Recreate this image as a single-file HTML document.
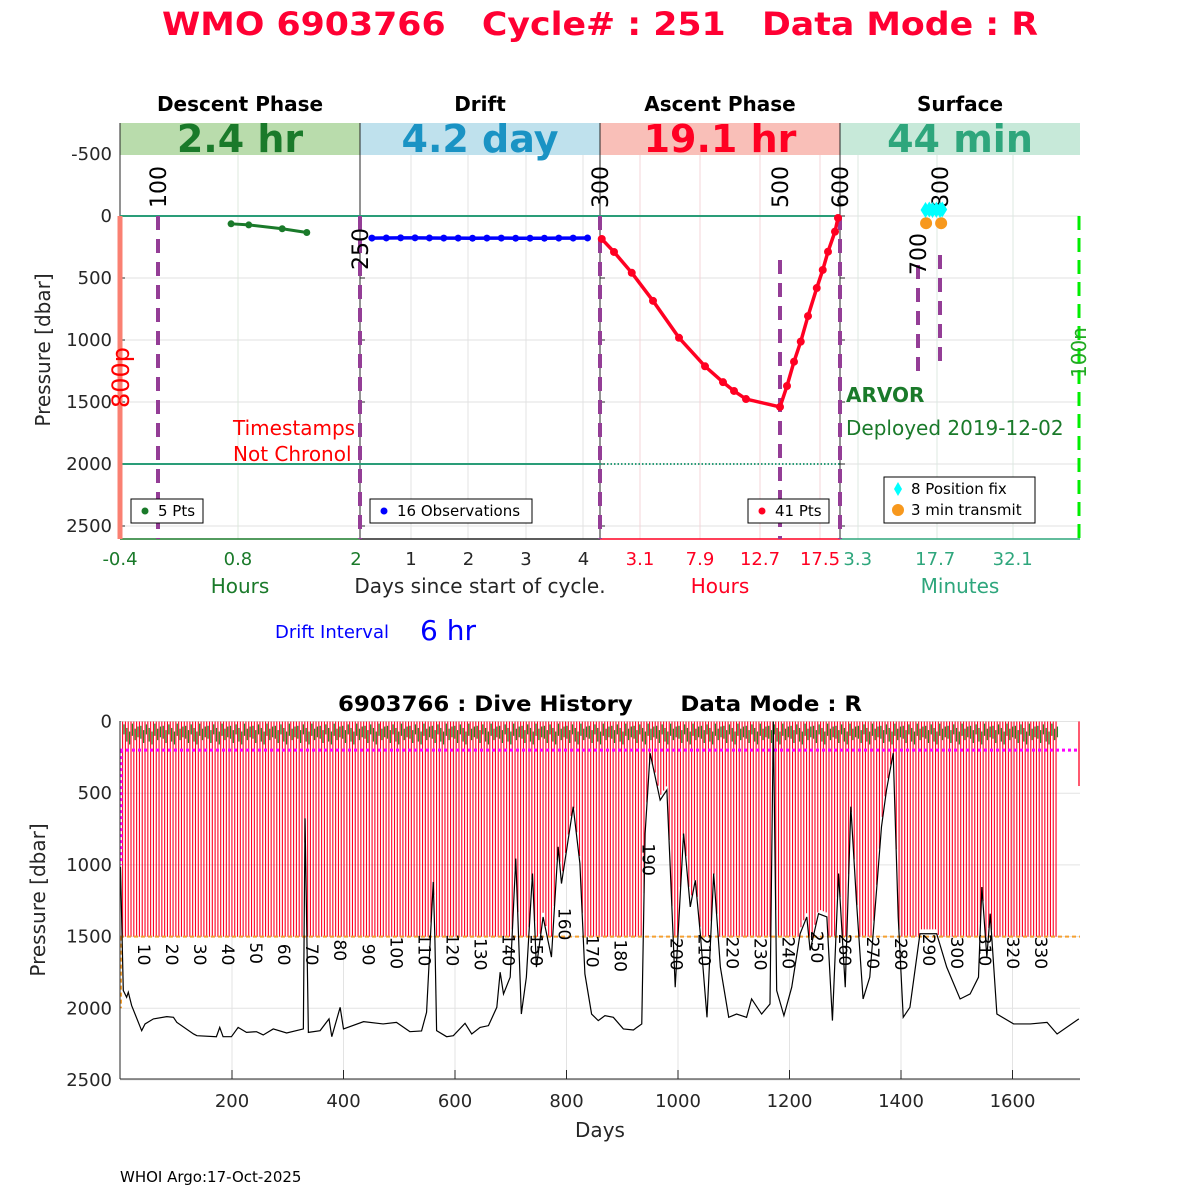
<!DOCTYPE html>
<html><head><meta charset="utf-8"><style>
html,body{margin:0;padding:0;background:#fff;}
svg{display:block;font-family:"DejaVu Sans","Liberation Sans",sans-serif;}
text{white-space:pre;}
</style></head><body>
<svg id="chart" width="1200" height="1200" viewBox="0 0 1200 1200" xmlns="http://www.w3.org/2000/svg">
<rect width="1200" height="1200" fill="#fff"/>
<text x="600" y="35" text-anchor="middle" font-size="32" font-weight="bold" fill="#ff0033" textLength="876" lengthAdjust="spacingAndGlyphs" xml:space="preserve">WMO 6903766   Cycle# : 251   Data Mode : R</text>
<g id="topPanel"></g>
<g id="botPanel"></g>
</svg>
<script>
// ---------- TOP PANEL DATA ----------
const phaseNames = ["Descent Phase","Drift","Ascent Phase","Surface"];
const phaseDurations = ["2.4 hr","4.2 day","19.1 hr","44 min"];
const yTicksTop = [-500,0,500,1000,1500,2000,2500];
const descentHours = [0.73,0.91,1.25,1.5];
const descentPres = [63,72,103,133];
const driftDays = [0.32,0.57,0.82,1.07,1.32,1.57,1.82,2.07,2.32,2.57,2.82,3.07,3.32,3.57,3.82,4.07];
const driftPres = [178,177,176,176,177,178,178,179,178,178,179,179,179,178,178,177];
const ascentHours = [0.04,1.02,2.44,4.14,6.22,8.3,9.74,10.62,11.58,14.3,14.86,15.42,15.96,16.54,17.24,17.72,18.14,18.7,18.94];
const ascentPres = [185,290,458,684,982,1212,1340,1411,1476,1540,1371,1175,1013,807,581,435,288,126,16];
const fixMinutes = [15.9,16.6,17.2,17.9,18.6,19.0];
const fixPres = [-48,-52,-48,-50,-48,-52];
const transmitMinutes = [16.0,18.8];
const transmitPres = [58,58];
const descentTicks = ["-0.4","0.8","2"];
const driftTicks = [1,2,3,4];
const ascentTicks = ["3.1","7.9","12.7","17.5"];
const surfaceTicks = ["3.3","17.7","32.1"];
// ---------- BOTTOM PANEL DATA ----------
const bathyDays = [0,5,11,14,20,38,44,59,83,95,101,131,137,172,178,184,199,211,226,244,256,274,298,328,331,337,358,374,379,394,400,436,471,495,519,540,549,561,564,567,585,597,618,630,645,660,675,681,687,699,709,719,728,739,746,758,773,785,791,812,824,833,845,857,869,884,902,920,935,941,950,968,980,986,995,1010,1022,1031,1040,1052,1064,1076,1091,1105,1123,1132,1150,1165,1171,1177,1190,1204,1219,1231,1237,1252,1267,1277,1288,1300,1310,1320,1332,1344,1365,1374,1386,1395,1404,1416,1434,1464,1482,1506,1524,1539,1545,1554,1560,1572,1602,1632,1662,1680,1719];
const bathyPres = [1014,1876,1923,1888,1981,2156,2109,2074,2058,2063,2098,2179,2191,2198,2133,2198,2198,2133,2168,2163,2186,2144,2172,2144,676,2168,2156,2074,2198,1993,2144,2093,2109,2098,2163,2158,2028,1119,1527,2156,2198,2191,2105,2179,2133,2121,1993,1748,1900,1783,956,2040,1783,1060,1713,1363,1643,874,1130,594,990,1760,2040,2086,2051,2063,2144,2151,2109,781,221,548,478,1014,1853,781,1293,1107,1480,2063,1060,1713,2063,2040,2063,1935,2040,1970,0,1876,2051,1853,1480,1363,1596,1340,1363,2086,1060,1853,594,1247,1935,1783,734,478,221,1363,2063,1993,1480,1480,1713,1935,1900,1783,1154,1643,1340,2040,2109,2109,2098,2179,2074];
const cycleCount = 335;
const firstLabelledCycleDay = 44;
const cyclePeriodDays = 5.028;
const profileDepth = 1500;
const parkDepth = 200;
const cycleLabels = [10,20,30,40,50,60,70,80,90,100,110,120,130,140,150,160,170,180,190,200,210,220,230,240,250,260,270,280,290,300,310,320,330];
const cycleLabelPres = [1550,1550,1550,1550,1540,1550,1550,1520,1550,1500,1480,1480,1510,1480,1480,1300,1490,1520,850,1510,1480,1500,1510,1500,1460,1480,1500,1510,1480,1500,1480,1500,1500];
const greenTopPres = [30,60,20,45,70,15,50,35];
const greenBotPres = [120,150,90,140,160,100,130,110];
const yTicksBot = [0,500,1000,1500,2000,2500];
const xTicksBot = [200,400,600,800,1000,1200,1400,1600];

const NS="http://www.w3.org/2000/svg";
function mk(parent,tag,attrs,text){const e=document.createElementNS(NS,tag);for(const k in attrs)e.setAttribute(k,attrs[k]);if(text!==undefined)e.textContent=text;parent.appendChild(e);return e;}
const topG=document.getElementById('topPanel'), botG=document.getElementById('botPanel');

const yT=p=>216+p*0.124;
const xDesc=h=>120+(h+0.4)*98.3;
const xDrift=d=>353.5+d*57.5;
const xAsc=h=>600+(h+0.1)*12.5;
const xSurf=m=>840+m*5.38;
const panelX=[120,360,600,840];
const bannerFill=["#b9dcac","#bfe1ed","#f9bfb8","#c7e9d9"];
const bannerText=["#1a7a2a","#1a93c4","#ff0022","#2ea67c"];
const axisCol=["#1a7a2a","#262626","#ff0022","#2ea67c"];

for(let i=0;i<4;i++){
  const x0=panelX[i];
  yTicksTop.forEach(v=>{let l=mk(topG,'line',{x1:x0,x2:x0+240,y1:yT(v),y2:yT(v),stroke:'#e0e0e0','stroke-width':1});
    
    
    mk(topG,'line',{x1:x0,x2:x0+5,y1:yT(v),y2:yT(v),stroke:'#262626'});});
}
const vgrid=[[238,'#dce8dc'],[411,'#e3e3e3'],[468,'#e3e3e3'],[526,'#e3e3e3'],[583,'#e3e3e3'],[640,'#f5d5d8'],[700,'#f5d5d8'],[760,'#f5d5d8'],[820,'#f5d5d8'],[858,'#dde8e2'],[937,'#dde8e2'],[1013,'#dde8e2']];
vgrid.forEach(g=>{let l=mk(topG,'line',{x1:g[0],x2:g[0],y1:123,y2:539,stroke:g[1]});
  
  });
for(let i=0;i<4;i++){
  const x0=panelX[i];
  let t=mk(topG,'text',{x:x0+120,y:111,'text-anchor':'middle','font-size':20,'font-weight':'bold',fill:'#000'},phaseNames[i]);
  
  
  let r=mk(topG,'rect',{x:x0,y:123,width:240,height:32,fill:bannerFill[i]});
  
  
  let d=mk(topG,'text',{x:x0+120,y:152,'text-anchor':'middle','font-size':38,'font-weight':'bold',fill:bannerText[i]},phaseDurations[i]);
  
  
  mk(topG,'line',{x1:x0,x2:x0+240,y1:539,y2:539,stroke:axisCol[i],'stroke-width':1.5});
  if(i>0) mk(topG,'line',{x1:x0,x2:x0,y1:123,y2:539,stroke:'#262626','stroke-width':1});
}
mk(topG,'line',{x1:120,x2:120,y1:123,y2:539,stroke:'#262626','stroke-width':1});
yTicksTop.forEach(v=>{let t=mk(topG,'text',{x:112,y:yT(v)+6,'text-anchor':'end','font-size':18,fill:'#262626'},String(v));
  
  });
let yl=mk(topG,'text',{x:0,y:0,transform:'translate(50,350) rotate(-90)','text-anchor':'middle','font-size':20,fill:'#262626'},'Pressure [dbar]');


function xt(x,txt,col){let t=mk(topG,'text',{x:x,y:565,'text-anchor':'middle','font-size':18,fill:col},txt);
  
  }
descentTicks.forEach(v=>xt(xDesc(parseFloat(v)),v,axisCol[0]));
driftTicks.forEach(v=>xt(xDrift(v),String(v),'#262626'));
ascentTicks.forEach(v=>xt(xAsc(parseFloat(v)),v,axisCol[2]));
surfaceTicks.forEach(v=>xt(xSurf(parseFloat(v)),v,axisCol[3]));
[[240,'Hours',axisCol[0]],[480,'Days since start of cycle.','#262626'],[720,'Hours',axisCol[2]],[960,'Minutes',axisCol[3]]].forEach(a=>{
  let t=mk(topG,'text',{x:a[0],y:593,'text-anchor':'middle','font-size':20,fill:a[2]},a[1]);
  
  });
mk(topG,'line',{x1:120,x2:840,y1:yT(0),y2:yT(0),stroke:'#2a9d78','stroke-width':2});
mk(topG,'line',{x1:120,x2:600,y1:yT(2000),y2:yT(2000),stroke:'#2a9d78','stroke-width':2});
mk(topG,'line',{x1:600,x2:840,y1:yT(2000),y2:yT(2000),stroke:'#2a9d78','stroke-width':2,'stroke-dasharray':'1.5 2'});
mk(topG,'line',{x1:120,x2:120,y1:216,y2:539,stroke:'#fa8072','stroke-width':5});
mk(topG,'line',{x1:1079,x2:1079,y1:216,y2:539,stroke:'#00ee00','stroke-width':3,'stroke-dasharray':'14 8'});
[[158,216,539],[360,216,539],[600,216,539],[780,260,539],[840,216,539],[918,265,378],[940,255,365]].forEach(v=>{
  let l=mk(topG,'line',{x1:v[0],x2:v[0],y1:v[1],y2:v[2],stroke:'#943d96','stroke-width':4,'stroke-dasharray':'14 9'});
  
  });
function rot(x,y,txt,col,size,name){let t=mk(topG,'text',{x:0,y:0,transform:`translate(${x},${y}) rotate(-90)`,'font-size':size,fill:col},txt);
  
  }
rot(166,208,'100','#000',22,'event-label');
rot(368,270,'250','#000',22,'event-label');
rot(608,208,'300','#000',22,'event-label');
rot(788,208,'500','#000',22,'event-label');
rot(848,208,'600','#000',22,'event-label');
rot(926,275,'700','#000',22,'event-label');
rot(948,208,'800','#000',22,'event-label');
rot(129,408,'800p','#ff0000',24,'pressure-label');
rot(1086,378,'100n','#22aa22',20,'pressure-label');
function series(xs,ys,fx,col,w,r,name){
  const pts=xs.map((v,i)=>fx(v)+','+yT(ys[i])).join(' ');
  let pl=mk(topG,'polyline',{points:pts,fill:'none',stroke:col,'stroke-width':w});
  
  
  xs.forEach((v,i)=>{let c=mk(topG,'circle',{cx:fx(v),cy:yT(ys[i]),r:r,fill:col});
    
    });
}
series(descentHours,descentPres,xDesc,'#1a7a2a',3,3.5,'descent');
series(driftDays,driftPres,xDrift,'#0000ff',3.5,3.5,'drift');
series(ascentHours,ascentPres,xAsc,'#ff0022',3.5,4,'ascent');
transmitMinutes.forEach((m,i)=>{let c=mk(topG,'circle',{cx:xSurf(m),cy:yT(transmitPres[i]),r:6,fill:'#f7981d'});
  
  });
fixMinutes.forEach((m,i)=>{const x=xSurf(m),y=yT(fixPres[i]);let p=mk(topG,'polygon',{points:`${x},${y-8} ${x+5},${y} ${x},${y+8} ${x-5},${y}`,fill:'#00ffff'});
  
  });
function legend(x,y,w,h,rows){
  let g=mk(topG,'g',{});
  
  
  mk(g,'rect',{x:x,y:y,width:w,height:h,fill:'#fff',stroke:'#000','stroke-width':1});
  rows.forEach((r,i)=>{const cy=y+12+i*21;
    if(r[2]==='d') mk(g,'polygon',{points:`${x+14},${cy-7} ${x+18},${cy} ${x+14},${cy+7} ${x+10},${cy}`,fill:r[1]});
    else mk(g,'circle',{cx:x+14,cy:cy,r:r[2]==='c'?6:3.5,fill:r[1]});
    mk(g,'text',{x:x+27,y:cy+5,'font-size':15,fill:'#000'},r[0]);});
}
legend(131,499,72,24,[['5 Pts','#1a7a2a','s']]);
legend(370,499,162,24,[['16 Observations','#0000ff','s']]);
legend(748,499,81,24,[['41 Pts','#ff0022','s']]);
legend(884,477,151,46,[['8 Position fix','#00ffff','d'],['3 min transmit','#f7981d','c']]);
[[233,435,'Timestamps','#ff0000',20,'normal','warning-text'],[233,461,'Not Chronol','#ff0000',20,'normal','warning-text'],
 [846,402,'ARVOR','#1a7a2a',20,'bold','float-type'],[846,435,'Deployed 2019-12-02','#1a7a2a',20,'normal','deploy-date']].forEach(a=>{
  let t=mk(topG,'text',{x:a[0],y:a[1],'font-size':a[4],'font-weight':a[5],fill:a[3]},a[2]);
  
  });
let di=mk(topG,'text',{x:275,y:638,'font-size':18,fill:'#0000ff'},'Drift Interval');


let dv=mk(topG,'text',{x:420,y:640,'font-size':28,fill:'#0000ff'},'6 hr');



// ---------- BOTTOM ----------
const xB=d=>120.5+d*0.5575;
const yB=p=>721.5+p*0.1434;
function bathyAt(d){for(let i=1;i<bathyDays.length;i++){if(d<=bathyDays[i]){const t=(d-bathyDays[i-1])/(bathyDays[i]-bathyDays[i-1]);return bathyPres[i-1]+t*(bathyPres[i]-bathyPres[i-1]);}}return bathyPres[bathyPres.length-1];}
yTicksBot.forEach(v=>{let l=mk(botG,'line',{x1:120,x2:1080,y1:yB(v),y2:yB(v),stroke:'#e3e3e3'});
  
  
  let t=mk(botG,'text',{x:112,y:yB(v)+6,'text-anchor':'end','font-size':18,fill:'#262626'},String(v));
  
  });
xTicksBot.forEach(v=>{let l=mk(botG,'line',{x1:xB(v),x2:xB(v),y1:721,y2:1079,stroke:'#e3e3e3'});
  
  
  mk(botG,'line',{x1:xB(v),x2:xB(v),y1:1079,y2:1070,stroke:'#262626'});
  let t=mk(botG,'text',{x:xB(v),y:1107,'text-anchor':'middle','font-size':18,fill:'#262626'},String(v));
  
  });
for(let n=1;n<=cycleCount;n++){
  const d=firstLabelledCycleDay+(n-10)*cyclePeriodDays;
  if(d<0) continue;
  const deep=Math.min(profileDepth,bathyAt(d)-30);
  let b=mk(botG,'line',{x1:xB(d),x2:xB(d),y1:yB(0),y2:yB(Math.max(deep,300)),stroke:'#ff0022','stroke-width':1.1});
  
  
  const k=n%greenTopPres.length;
  let g=mk(botG,'line',{x1:xB(d+2.5),x2:xB(d+2.5),y1:yB(greenTopPres[k]),y2:yB(greenBotPres[k]),stroke:'#1a8a2a','stroke-width':1.2});
  
  
}
let park=mk(botG,'line',{x1:120,x2:1080,y1:yB(parkDepth),y2:yB(parkDepth),stroke:'#ff00ff','stroke-width':3,'stroke-dasharray':'3 3'});


mk(botG,'line',{x1:121,x2:121,y1:yB(parkDepth),y2:yB(1000),stroke:'#ff00ff','stroke-width':3,'stroke-dasharray':'3 3'});
let prof=mk(botG,'line',{x1:120,x2:1080,y1:yB(profileDepth),y2:yB(profileDepth),stroke:'#f5a030','stroke-width':2,'stroke-dasharray':'4 3'});


mk(botG,'line',{x1:121,x2:121,y1:yB(profileDepth),y2:yB(2000),stroke:'#f5a030','stroke-width':2,'stroke-dasharray':'4 3'});
mk(botG,'line',{x1:1079,x2:1079,y1:yB(0),y2:yB(450),stroke:'#ff0022','stroke-width':1.3});
let bp=mk(botG,'polyline',{points:bathyDays.map((d,i)=>xB(d)+','+yB(bathyPres[i])).join(' '),fill:'none',stroke:'#000','stroke-width':1.2});


cycleLabels.forEach((c,i)=>{const d=firstLabelledCycleDay+(c-10)*cyclePeriodDays;
  let t=mk(botG,'text',{x:0,y:0,transform:`translate(${xB(d)-7},${yB(cycleLabelPres[i])}) rotate(90)`,'font-size':17,fill:'#000'},String(c));
  
  });
mk(botG,'line',{x1:120,x2:120,y1:721,y2:1079,stroke:'#262626'});
mk(botG,'line',{x1:120,x2:1080,y1:1079,y2:1079,stroke:'#262626'});
let bt=mk(botG,'text',{x:600,y:711,'text-anchor':'middle','font-size':21,'font-weight':'bold',fill:'#000',textLength:524,lengthAdjust:'spacingAndGlyphs'},'6903766 : Dive History      Data Mode : R');


let byl=mk(botG,'text',{x:0,y:0,transform:'translate(45,900) rotate(-90)','text-anchor':'middle','font-size':20,fill:'#262626'},'Pressure [dbar]');


let bxl=mk(botG,'text',{x:600,y:1137,'text-anchor':'middle','font-size':20,fill:'#262626'},'Days');


let ft=mk(botG,'text',{x:120,y:1182,'font-size':15,fill:'#000'},'WHOI Argo:17-Oct-2025');


</script>
</body></html>
